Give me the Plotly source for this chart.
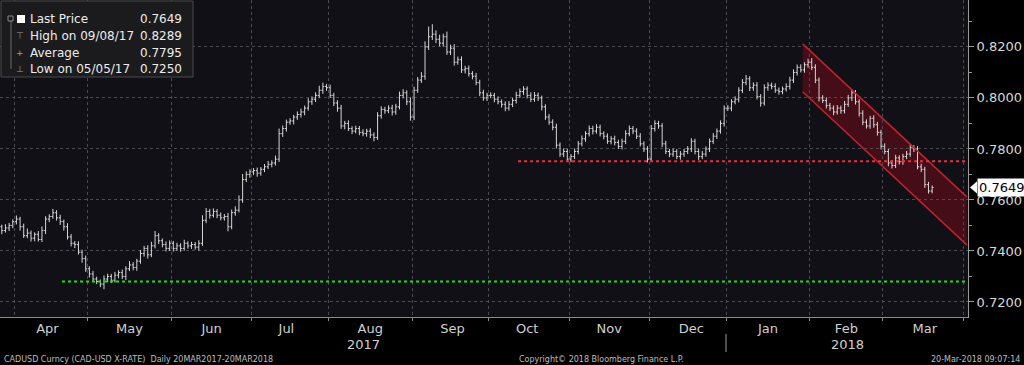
import pandas as pd
import plotly.graph_objects as go

# ---------------- data ----------------
first_open = 0.7505
close_mar17 = [0.7495, 0.7480, 0.7490, 0.7500, 0.7515]
close_apr17 = [0.7525, 0.7495, 0.7460, 0.7470, 0.7450, 0.7465, 0.7445, 0.7480, 0.7525, 0.7535,
               0.7550, 0.7530, 0.7515, 0.7495, 0.7455, 0.7430, 0.7425, 0.7395, 0.7370, 0.7330]
close_may17 = [0.7310, 0.7290, 0.7280, 0.7270, 0.7290, 0.7300, 0.7285, 0.7305, 0.7315, 0.7300,
               0.7330, 0.7345, 0.7335, 0.7360, 0.7390, 0.7410, 0.7385, 0.7420, 0.7460, 0.7440,
               0.7425, 0.7410, 0.7430]
close_jun17 = [0.7410, 0.7420, 0.7410, 0.7430, 0.7420, 0.7425, 0.7415, 0.7430, 0.7520, 0.7555,
               0.7540, 0.7555, 0.7540, 0.7530, 0.7535, 0.7495, 0.7550, 0.7560, 0.7600, 0.7680,
               0.7700, 0.7710]
close_jul17 = [0.7715, 0.7705, 0.7720, 0.7730, 0.7740, 0.7745, 0.7760, 0.7860, 0.7880, 0.7905,
               0.7910, 0.7925, 0.7935, 0.7945, 0.7960, 0.7985, 0.7995, 0.8010, 0.8030, 0.8045,
               0.8040]
close_aug17 = [0.8010, 0.7980, 0.7960, 0.7890, 0.7900, 0.7880, 0.7870, 0.7880, 0.7865, 0.7860,
               0.7870, 0.7855, 0.7845, 0.7930, 0.7955, 0.7950, 0.7960, 0.7945, 0.7965, 0.8010,
               0.8020, 0.7985, 0.7925]
close_sep17 = [0.8030, 0.8070, 0.8085, 0.8200, 0.8240, 0.8250, 0.8230, 0.8215, 0.8240, 0.8180,
               0.8195, 0.8140, 0.8150, 0.8110, 0.8115, 0.8095, 0.8085, 0.8060, 0.8020, 0.8000,
               0.8010]
close_oct17 = [0.8010, 0.7995, 0.7985, 0.7975, 0.7960, 0.7975, 0.7990, 0.8010, 0.8025, 0.8035,
               0.8010, 0.7995, 0.8010, 0.8000, 0.7965, 0.7925, 0.7905, 0.7885, 0.7815, 0.7780,
               0.7790, 0.7760]
close_nov17 = [0.7770, 0.7790, 0.7820, 0.7840, 0.7860, 0.7880, 0.7870, 0.7885, 0.7860, 0.7850,
               0.7830, 0.7840, 0.7825, 0.7810, 0.7830, 0.7860, 0.7880, 0.7870, 0.7850, 0.7820,
               0.7800, 0.7760]
close_dec17 = [0.7880, 0.7900, 0.7890, 0.7820, 0.7790, 0.7780, 0.7790, 0.7770, 0.7780, 0.7790,
               0.7800, 0.7830, 0.7790, 0.7770, 0.7780, 0.7800, 0.7830, 0.7850, 0.7870, 0.7900,
               0.7960]
close_jan18 = [0.7960, 0.7985, 0.7995, 0.8030, 0.8060, 0.8075, 0.8040, 0.8050, 0.8005, 0.7980,
               0.8040, 0.8050, 0.8045, 0.8030, 0.8025, 0.8035, 0.8045, 0.8070, 0.8100, 0.8120,
               0.8110, 0.8130, 0.8140]
close_feb18 = [0.8120, 0.8070, 0.8000, 0.7990, 0.7970, 0.7960, 0.7945, 0.7960, 0.7950, 0.7975,
               0.8000, 0.8020, 0.7985, 0.7940, 0.7905, 0.7890, 0.7920, 0.7895, 0.7865, 0.7810]
close_mar18 = [0.7790, 0.7745, 0.7735, 0.7765, 0.7750, 0.7770, 0.7780, 0.7805, 0.7800, 0.7730,
               0.7720, 0.7660, 0.7635, 0.7649]

# wick above / below the open-close body, in pips
wu_mar17 = [12, 8, 15, 10, 9]
wd_mar17 = [10, 14, 8, 12, 11]
wu_apr17 = [14, 9, 12, 18, 10, 8, 13, 16, 11, 9, 15, 10, 12, 8, 14, 11, 9, 13, 10, 12]
wd_apr17 = [11, 15, 9, 10, 13, 12, 8, 10, 14, 12, 9, 11, 13, 15, 10, 12, 14, 9, 16, 12]
wu_may17 = [10, 12, 9, 8, 14, 11, 10, 13, 9, 12, 10, 15, 11, 9, 14, 10, 12, 16, 18, 10, 9, 12, 11]
wd_may17 = [14, 12, 10, 12, 20, 13, 11, 9, 12, 10, 14, 9, 11, 13, 10, 12, 15, 9, 10, 13, 11, 12, 10]
wu_jun17 = [9, 12, 10, 14, 8, 11, 10, 12, 20, 13, 10, 12, 9, 11, 10, 14, 12, 15, 18, 22, 12, 10]
wd_jun17 = [12, 10, 13, 9, 11, 12, 10, 14, 10, 11, 13, 9, 12, 10, 11, 18, 10, 12, 9, 11, 10, 13]
wu_jul17 = [10, 12, 9, 11, 13, 10, 14, 20, 12, 10, 11, 9, 12, 13, 10, 14, 11, 12, 18, 15, 10]
wd_jul17 = [12, 14, 10, 11, 9, 12, 10, 11, 13, 12, 10, 14, 11, 12, 13, 10, 12, 11, 10, 14, 12]
wu_aug17 = [12, 10, 11, 13, 10, 12, 9, 11, 10, 12, 9, 11, 10, 14, 12, 10, 11, 13, 12, 15, 14, 10, 16]
wd_aug17 = [10, 12, 14, 11, 13, 10, 12, 9, 11, 10, 12, 13, 15, 10, 11, 12, 10, 14, 11, 10, 12, 13, 14]
wu_sep17 = [14, 12, 16, 22, 40, 39, 15, 18, 12, 20, 14, 16, 12, 13, 11, 12, 10, 13, 11, 12, 10]
wd_sep17 = [12, 10, 11, 14, 12, 13, 15, 12, 14, 11, 12, 13, 10, 12, 14, 11, 12, 10, 13, 11, 12]
wu_oct17 = [12, 10, 11, 9, 12, 13, 10, 14, 12, 11, 10, 12, 13, 11, 9, 10, 12, 11, 14, 10, 12, 11]
wd_oct17 = [11, 12, 10, 13, 12, 10, 11, 12, 10, 13, 12, 11, 10, 12, 14, 11, 10, 12, 13, 11, 12, 10]
wu_nov17 = [10, 12, 11, 13, 10, 12, 11, 12, 10, 9, 11, 10, 12, 11, 10, 13, 12, 10, 11, 12, 10, 11]
wd_nov17 = [12, 10, 11, 10, 12, 11, 13, 10, 11, 12, 10, 12, 11, 10, 12, 11, 10, 12, 11, 10, 12, 13]
wu_dec17 = [14, 12, 10, 11, 12, 10, 11, 9, 12, 10, 11, 12, 10, 11, 12, 10, 11, 12, 10, 12, 11]
wd_dec17 = [10, 12, 11, 13, 10, 12, 11, 10, 12, 11, 10, 12, 11, 13, 10, 11, 12, 10, 11, 10, 12]
wu_jan18 = [12, 10, 11, 12, 14, 15, 10, 11, 12, 10, 13, 11, 10, 12, 11, 10, 12, 13, 12, 11, 12, 10, 14]
wd_jan18 = [11, 12, 10, 12, 11, 10, 13, 12, 11, 14, 10, 12, 11, 10, 12, 11, 10, 12, 11, 12, 10, 11, 12]
wu_feb18 = [16, 12, 10, 11, 12, 10, 11, 12, 10, 13, 12, 14, 11, 10, 12, 11, 10, 12, 11, 10]
wd_feb18 = [11, 12, 14, 10, 12, 11, 13, 10, 12, 11, 10, 12, 11, 13, 12, 10, 11, 12, 13, 12]
wu_mar18 = [12, 10, 11, 12, 10, 11, 12, 14, 10, 11, 12, 10, 11, 8]
wd_mar18 = [11, 13, 12, 10, 11, 12, 10, 11, 12, 10, 11, 13, 10, 9]

# reference levels / channel
support_level = 0.7280
support_start = "2017-04-20"
resist_level = 0.7752
resist_start = "2017-10-12"
x_start, x_end = "2017-03-28", "2018-04-03 08:00"
channel_start, channel_end = "2018-01-30", "2018-04-03"
channel_upper = [0.8212, 0.7612]
channel_lower = [0.8024, 0.7424]

y_ticks = [0.72, 0.74, 0.76, 0.78, 0.80, 0.82]
y_minor = [0.73, 0.75, 0.77, 0.79, 0.81, 0.83]
legend_rows = [("Last Price", "0.7649"), ("High on 09/08/17", "0.8289"),
               ("Average", "0.7795"), ("Low on 05/05/17", "0.7250")]
last_price = 0.7649
year_labels = [("2017", 0.375), ("2018", 0.875)]

# ---------------- assemble ----------------
closes = (close_mar17 + close_apr17 + close_may17 + close_jun17 + close_jul17 + close_aug17 +
          close_sep17 + close_oct17 + close_nov17 + close_dec17 + close_jan18 + close_feb18 + close_mar18)
wu = (wu_mar17 + wu_apr17 + wu_may17 + wu_jun17 + wu_jul17 + wu_aug17 + wu_sep17 + wu_oct17 +
      wu_nov17 + wu_dec17 + wu_jan18 + wu_feb18 + wu_mar18)
wd = (wd_mar17 + wd_apr17 + wd_may17 + wd_jun17 + wd_jul17 + wd_aug17 + wd_sep17 + wd_oct17 +
      wd_nov17 + wd_dec17 + wd_jan18 + wd_feb18 + wd_mar18)
dates = pd.bdate_range("2017-03-27", "2018-03-20") + pd.Timedelta(hours=12)
assert len(dates) == len(closes) == len(wu) == len(wd), (len(dates), len(closes), len(wu), len(wd))

opens = [first_open] + closes[:-1]
highs = [max(o, c) + u / 10000 for o, c, u in zip(opens, closes, wu)]
lows = [min(o, c) - d / 10000 for o, c, d in zip(opens, closes, wd)]

FONT = "DejaVu Sans"
PW, PH = 968.0, 317.0  # plot area in px
GRID = "#4a4a52"


def px(x):
    return x / PW


def py(y):
    return 1 - y / PH


fig = go.Figure()
fig.add_trace(go.Ohlc(
    x=dates, open=opens, high=highs, low=lows, close=closes,
    increasing=dict(line=dict(color="#d6d6d6", width=1)),
    decreasing=dict(line=dict(color="#d6d6d6", width=1)),
    tickwidth=0.4, hoverinfo="skip", showlegend=False,
))

shapes = []
# channel
shapes.append(dict(type="path", xref="x", yref="y", layer="below",
                   path=f"M {channel_start},{channel_upper[0]} L {channel_end},{channel_upper[1]} "
                        f"L {channel_end},{channel_lower[1]} L {channel_start},{channel_lower[0]} Z",
                   fillcolor="rgba(150,10,25,0.40)", line=dict(width=0)))
for vals in (channel_upper, channel_lower):
    shapes.append(dict(type="line", xref="x", yref="y", x0=channel_start, x1=channel_end,
                       y0=vals[0], y1=vals[1], line=dict(color="#c0232e", width=1.5)))
# horizontal levels
shapes.append(dict(type="line", xref="x", yref="y", x0=resist_start, x1=x_end,
                   y0=resist_level, y1=resist_level, line=dict(color="#e23040", width=2, dash="dot")))
shapes.append(dict(type="line", xref="x", yref="y", x0=support_start, x1=x_end,
                   y0=support_level, y1=support_level, line=dict(color="#2fd22f", width=2, dash="dot")))
# year separator
shapes.append(dict(type="line", xref="x", yref="paper", x0="2018-01-01", x1="2018-01-01",
                   y0=py(334), y1=py(352), line=dict(color="#9a9a9a", width=1)))
# legend box
shapes.append(dict(type="rect", xref="paper", yref="paper", x0=px(1), x1=px(193), y0=py(1), y1=py(77),
                   fillcolor="#1b1b1e", line=dict(color="#4a4a4a", width=1), layer="above"))
shapes.append(dict(type="line", xref="paper", yref="paper", x0=px(11), x1=px(11), y0=py(20), y1=py(69),
                   line=dict(color="#6a6a6a", width=1), layer="above"))
shapes.append(dict(type="rect", xref="paper", yref="paper", x0=px(8), x1=px(13), y0=py(16), y1=py(21),
                   fillcolor="#1b1b1e", line=dict(color="#8a8a8a", width=1), layer="above"))
shapes.append(dict(type="rect", xref="paper", yref="paper", x0=px(17), x1=px(25), y0=py(15), y1=py(23),
                   fillcolor="#ffffff", line=dict(width=0), layer="above"))
# last price marker arrow
dy = 0.0024
shapes.append(dict(type="path", xref="paper", yref="y",
                   path=f"M {px(970)},{last_price} L {px(977)},{last_price + dy} "
                        f"L {px(977)},{last_price - dy} Z",
                   fillcolor="#ffffff", line=dict(width=0)))

ann = []
rows_y = [19, 36, 53, 69]
glyphs = ["", "⊤", "+", "⊥"]
for (lab, val), yy, g in zip(legend_rows, rows_y, glyphs):
    ann.append(dict(xref="paper", yref="paper", x=px(28), y=py(yy), xanchor="left", yanchor="middle",
                    text=lab, showarrow=False, font=dict(family=FONT, size=12, color="#ececec")))
    ann.append(dict(xref="paper", yref="paper", x=px(184), y=py(yy), xanchor="right", yanchor="middle",
                    text=val, showarrow=False, font=dict(family=FONT, size=12, color="#ececec")))
    if g:
        ann.append(dict(xref="paper", yref="paper", x=px(20), y=py(yy), xanchor="center", yanchor="middle",
                        text=g, showarrow=False, font=dict(family=FONT, size=9, color="#9a9a9a")))

ann.append(dict(xref="paper", yref="y", x=px(977), y=last_price, xanchor="left", yanchor="middle",
                text=f"{last_price:.4f}", showarrow=False, bgcolor="#ffffff", borderpad=1,
                font=dict(family=FONT, size=13, color="#000000")))
for txt, xp in year_labels:
    ann.append(dict(xref="paper", yref="paper", x=xp, y=py(344), xanchor="center", yanchor="middle",
                    text=txt, showarrow=False, font=dict(family=FONT, size=13, color="#d0d0d0")))
foot = dict(family=FONT, size=8, color="#bdbdbd")
ann.append(dict(xref="paper", yref="paper", x=px(2), y=py(359), xanchor="left", yanchor="middle",
                text="CADUSD Curncy (CAD-USD X-RATE)  Daily 20MAR2017-20MAR2018", showarrow=False, font=foot))
ann.append(dict(xref="paper", yref="paper", x=px(517), y=py(359), xanchor="left", yanchor="middle",
                text="Copyright© 2018 Bloomberg Finance L.P.", showarrow=False, font=foot))
ann.append(dict(xref="paper", yref="paper", x=px(1022), y=py(359), xanchor="right", yanchor="middle",
                text="20-Mar-2018 09:07:14", showarrow=False, font=foot))

fig.update_layout(
    width=1024, height=365,
    margin=dict(l=0, r=56, t=0, b=48),
    paper_bgcolor="#000000", plot_bgcolor="#101016",
    shapes=shapes, annotations=ann, showlegend=False,
    xaxis=dict(
        type="date", range=[x_start, x_end],
        rangebreaks=[dict(bounds=["sat", "mon"])],
        rangeslider=dict(visible=False),
        tick0="2017-04-01", dtick="M1", tickformat="%b", ticklabelmode="period",
        showgrid=True, gridcolor=GRID, griddash="dot", gridwidth=1,
        ticks="outside", ticklen=3, tickcolor="#8a8a8a", ticklabelstandoff=-4,
        showline=True, linecolor="#8a8a8a", linewidth=1,
        tickfont=dict(family=FONT, size=13, color="#d0d0d0"),
    ),
    yaxis=dict(
        side="right", range=[0.7141, 0.8384],
        tickvals=y_ticks, tickformat=".4f",
        showgrid=True, gridcolor=GRID, griddash="dot", gridwidth=1,
        ticks="outside", ticklen=5, tickcolor="#9a9a9a",
        minor=dict(tickvals=y_minor, ticks="outside", ticklen=3, tickcolor="#9a9a9a", showgrid=False),
        showline=True, linecolor="#9a9a9a", linewidth=1, zeroline=False,
        tickfont=dict(family=FONT, size=13, color="#d8d8d8"),
    ),
)

fig.write_html("out.html", config={"displayModeBar": False})

# remove the browser's default page margin so the figure fills the window
with open("out.html", encoding="utf-8") as f:
    html = f.read()
html = html.replace("<head>", "<head><style>html,body{margin:0;padding:0;background:#000;}</style>", 1)
with open("out.html", "w", encoding="utf-8") as f:
    f.write(html)
